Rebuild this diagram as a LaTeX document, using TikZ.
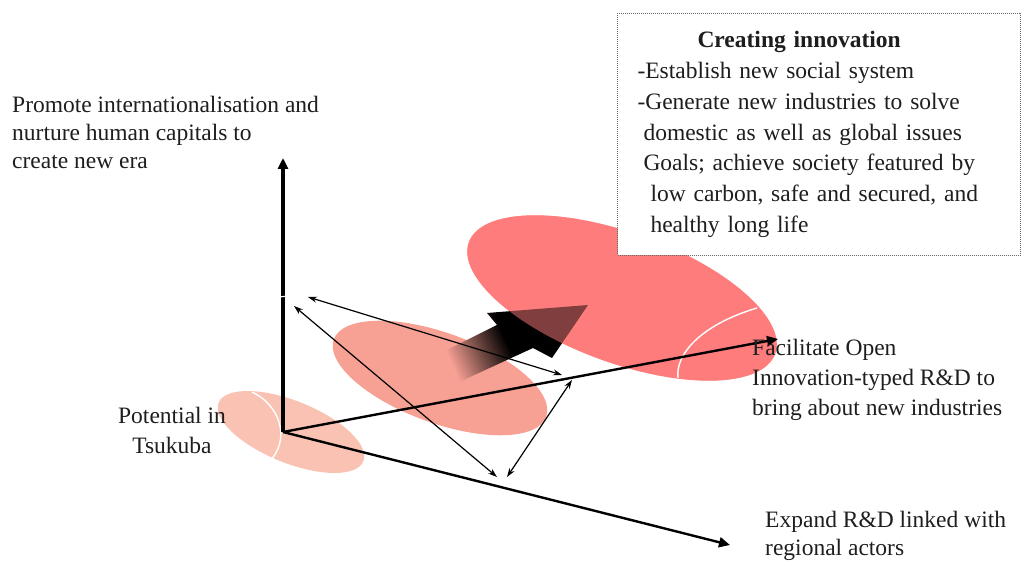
\documentclass[tikz,border=0pt]{standalone}
\usepackage{fontspec}
\setmainfont{Liberation Serif}
\usepackage{xcolor}
\usepackage{tikz}
\usetikzlibrary{arrows.meta,positioning}
\definecolor{TsukSmall}{HTML}{F9C2B3}
\definecolor{TsukMid}{HTML}{F7A094}
\definecolor{TsukLarge}{HTML}{FF7C7C}
\definecolor{TsukText}{HTML}{1E1E1E}
\definecolor{TsukDots}{HTML}{6A6A6A}
\pgfdeclarehorizontalshading{bigarrowshade}{100bp}{color(0bp)=(TsukMid); color(28bp)=(TsukMid);
  color(40bp)=(TsukMid!45!black); color(50bp)=(black); color(100bp)=(black)}
\tikzset{
  >=Stealth,
  axisline/.style={line width=2.4pt,draw=black,-{Triangle[length=11pt,width=10pt]}},
  vertaxis/.style={axisline,line width=3.6pt},
  linkarrow/.style={line width=1.2pt,draw=black,
    {Stealth[length=9pt,width=6pt]}-{Stealth[length=9pt,width=6pt]}},
  whitearc/.style={draw=white,line width=1.4pt},
  label/.style={font=\fontsize{23.5}{28}\selectfont,text=TsukText,align=left,inner sep=0pt},
  infobox/.style={draw=TsukDots,line width=1pt,dash pattern=on 1pt off 1pt,fill=white,
    font=\fontsize{23.5}{30.8}\selectfont,text=TsukText,align=left,
    text width=363pt,inner xsep=20pt,inner ysep=0pt,minimum width=403pt,minimum height=242pt}
}
\begin{document}
\begin{tikzpicture}[x=1pt,y=1pt]
  \useasboundingbox (0,0) rectangle (1023,562);

  % three stages
  \fill[TsukSmall, rotate around={-22:(291,130)}] (291,130) ellipse [x radius=78, y radius=31];
  \fill[TsukMid, rotate around={-20:(440,184)}] (440,184) ellipse [x radius=113, y radius=45];
  \fill[TsukLarge, rotate around={-20:(622,264)}] (622,264) ellipse [x radius=163, y radius=65];

  % big arrow
  \shade[shading=bigarrowshade, shading angle=24]
    (427,202) -- (497,237) -- (487,249) -- (588,257) -- (552,204) -- (533,214) -- (457,179) -- cycle;
  \fill[TsukLarge, fill opacity=0.5, rotate around={-20:(622,264)}] (622,264) ellipse [x radius=163, y radius=65];

  \draw[whitearc] (252,170) .. controls (280,157) and (292,122) .. (268,99);
  \draw[whitearc] (757,254) .. controls (700,237) and (675,207) .. (678,184);

  % axes
  \coordinate (origin) at (283,130);
  \coordinate (verttip) at (283,404);
  \coordinate (facilitip) at (778,223);
  \coordinate (expandtip) at (730,17);
  \draw[vertaxis] (origin) -- (verttip);
  \draw[axisline] (origin) -- (facilitip);
  \draw[axisline] (origin) -- (expandtip);
  \draw[draw=white,line width=1.2pt] (279,265) -- (288,266);

  % links
  \coordinate (linkA) at (308,265);
  \coordinate (linkB) at (294,256);
  \coordinate (linkC) at (562,187);
  \coordinate (linkD) at (572,182);
  \coordinate (linkE) at (497,85);
  \coordinate (linkF) at (507,85);
  \draw[linkarrow] (linkA) -- (linkC);
  \draw[linkarrow] (linkB) -- (linkE);
  \draw[linkarrow] (linkF) -- (linkD);

  % texts
  \node[label,anchor=north west] (promotetext) at (12,466)
    {Promote internationalisation and\\nurture human capitals to\\create new era};
  \node[label,align=center,anchor=north,font=\fontsize{23.5}{30}\selectfont] (potentialtext) at (172,155)
    {Potential in\\Tsukuba};
  \node[label,anchor=north west,font=\fontsize{23.5}{30}\selectfont] (facilitatetext) at (752,223)
    {Facilitate Open\\Innovation-typed R\&D to\\bring about new industries};
  \node[label,anchor=north west] (expandtext) at (765,51)
    {Expand R\&D linked with\\regional actors};

  \node[infobox,anchor=north west] (innovbox) at (617,549)
    {\hspace*{60pt}\textbf{Creating innovation}\\
     -Establish new social system\\
     -Generate new industries to solve\\
     \hspace*{6pt}domestic as well as global issues\\
     \hspace*{6pt}Goals; achieve society featured by\\
     \hspace*{13pt}low carbon, safe and secured, and\\
     \hspace*{13pt}healthy long life};
\end{tikzpicture}
\end{document}
